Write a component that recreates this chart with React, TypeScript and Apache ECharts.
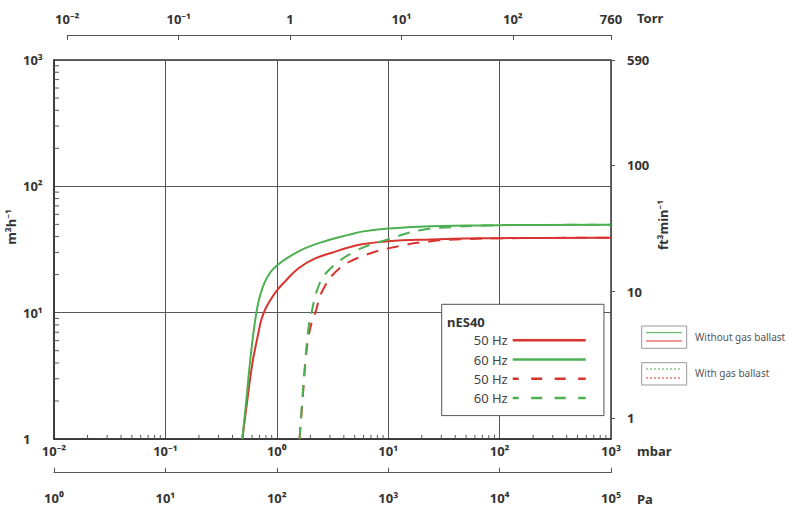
import React, { useEffect, useRef } from 'react';
import * as echarts from 'echarts';

// ---- Tick labels ----
const MBAR_LABELS = ['10⁻²', '10⁻¹', '10⁰', '10¹', '10²', '10³'];
const TORR_LABELS = ['10⁻²', '10⁻¹', '1', '10¹', '10²', '760'];
const PA_LABELS = ['10⁰', '10¹', '10²', '10³', '10⁴', '10⁵'];
const SPEED_LABELS = ['1', '10¹', '10²', '10³'];
const FT_LABELS = ['1', '10', '100', '590'];

// minor tick positions (2..9 within every decade)
const MINOR_MANTISSAS = [2, 3, 4, 5, 6, 7, 8, 9];
const MBAR_DECADES = [0.01, 0.1, 1, 10, 100];
const SPEED_DECADES = [1, 10, 100];

// ---- Series data: pressure (mbar) and pumping speed (m³/h) ----
const RED_SOLID_P = [0.49, 0.53, 0.57, 0.61, 0.65, 0.69, 0.724, 0.786, 0.872, 1.003, 1.189, 1.566, 2.21, 3.12, 4.4, 6.0, 10, 24, 50, 100, 1000];
const RED_SOLID_S = [1, 1.7, 2.8, 4.2, 5.6, 7.2, 8.71, 10.6, 12.5, 15.0, 17.7, 22.5, 26.9, 29.8, 32.8, 34.9, 36.8, 38.0, 38.6, 38.9, 39.2];

const GREEN_SOLID_P = [0.49, 0.535, 0.565, 0.59, 0.615, 0.64, 0.671, 0.71, 0.776, 0.873, 1.003, 1.274, 1.8, 2.54, 4.4, 6.0, 10, 24, 50, 100, 1000];
const GREEN_SOLID_S = [1, 2.11, 3.5, 5.0, 6.8, 8.71, 11.2, 13.8, 17.3, 20.8, 23.6, 27.5, 32.4, 36.2, 41.3, 44.0, 46.4, 48.4, 48.9, 49.3, 49.6];

const RED_DASH_P = [1.6, 1.7, 1.8, 1.9, 2.05, 2.22, 2.55, 3.58, 6.25, 12.4, 24.5, 49, 100, 1000];
const RED_DASH_S = [1, 2.0, 3.9, 6.0, 8.3, 10, 14.7, 22.1, 28.6, 33.6, 36.8, 38.2, 38.8, 39.2];

const GREEN_DASH_P = [1.6, 1.69, 1.81, 1.94, 2.05, 2.3, 2.85, 5.08, 9.9, 19.5, 37.8, 100, 1000];
const GREEN_DASH_S = [1, 1.98, 4.36, 8.0, 10, 15.1, 21.2, 30.7, 38.0, 45.0, 47.6, 49.3, 49.6];

const SERIES_NAMES = ['50 Hz', '60 Hz', '50 Hz (gas ballast)', '60 Hz (gas ballast)'];

const RED = '#d9342f';
const GREEN = '#4caf50';
const FONT = "'Noto Sans', 'DejaVu Sans', sans-serif";

const pts = (p: number[], s: number[]) => p.map((v, i) => [v, s[i]]);
const minorTicks = (decades: number[]) => decades.flatMap((d) => MINOR_MANTISSAS.map((m) => m * d));

const tickFont = { fontFamily: FONT, fontWeight: 'bold', fontSize: 13, color: '#333' };

export default function App() {
  const ref = useRef<HTMLDivElement>(null);
  useEffect(() => {
    document.body.style.margin = '0';
    const chart = echarts.init(ref.current!, null, { renderer: 'svg' });
    const dash = [12, 9];
    const tickLine = { color: '#555', width: 1 };
    const curve = { type: 'line', xAxisIndex: 0, yAxisIndex: 0, symbol: 'none', smooth: 0.4, z: 3 };
    const option: any = {
      animation: false,
      grid: [
        { left: 54, top: 60, width: 557, height: 379, show: true, borderColor: '#333', borderWidth: 1.5, backgroundColor: 'transparent', outerBoundsMode: 'none', containLabel: false },
        { left: 67.3, top: 35, width: 543.7, height: 10, show: false, outerBoundsMode: 'none', containLabel: false },
        { left: 54, top: 462, width: 557, height: 10.7, show: false, outerBoundsMode: 'none', containLabel: false },
        { left: 54, top: 60, width: 557, height: 358.3, show: false, outerBoundsMode: 'none', containLabel: false },
      ],
      xAxis: [
        {
          type: 'log', gridIndex: 0, min: 0.01, max: 1000, logBase: 10, position: 'bottom',
          axisLine: { show: true, onZero: false, lineStyle: { color: '#333', width: 1.5 } },
          axisTick: { show: false },
          splitLine: { show: true, lineStyle: { color: '#555', width: 1 } },
          axisLabel: { ...tickFont, margin: 5, showMinLabel: true, showMaxLabel: true, formatter: (_v: number, i: number) => MBAR_LABELS[i] ?? '' },
        },
        {
          type: 'log', gridIndex: 1, min: 0.01, max: 760, logBase: 10, position: 'top',
          axisLine: { show: true, onZero: false, lineStyle: { color: '#555', width: 1 } },
          axisTick: { show: true, inside: true, length: 5, lineStyle: tickLine },
          splitLine: { show: false },
          axisLabel: { ...tickFont, margin: 10, showMinLabel: true, showMaxLabel: true, formatter: (_v: number, i: number) => TORR_LABELS[i] ?? '' },
        },
        {
          type: 'log', gridIndex: 2, min: 1, max: 100000, logBase: 10, position: 'bottom',
          axisLine: { show: true, onZero: false, lineStyle: { color: '#555', width: 1 } },
          axisTick: { show: true, inside: true, length: 5, lineStyle: tickLine },
          splitLine: { show: false },
          axisLabel: { ...tickFont, margin: 19, showMinLabel: true, showMaxLabel: true, formatter: (_v: number, i: number) => PA_LABELS[i] ?? '' },
        },
        { type: 'value', gridIndex: 3, show: false, min: 0, max: 1 },
      ],
      yAxis: [
        {
          type: 'log', gridIndex: 0, min: 1, max: 1000, logBase: 10, position: 'left',
          axisLine: { show: true, onZero: false, lineStyle: { color: '#333', width: 1.5 } },
          axisTick: { show: false },
          splitLine: { show: true, lineStyle: { color: '#555', width: 1 } },
          axisLabel: { ...tickFont, align: 'left', margin: 31, showMinLabel: true, showMaxLabel: true, formatter: (_v: number, i: number) => SPEED_LABELS[i] ?? '' },
        },
        { type: 'value', gridIndex: 1, show: false, min: 0, max: 1 },
        { type: 'value', gridIndex: 2, show: false, min: 0, max: 1 },
        {
          type: 'log', gridIndex: 3, min: 1, max: 676, logBase: 10, position: 'right',
          axisLine: { show: false, onZero: false },
          axisTick: { show: true, inside: false, length: 4, lineStyle: tickLine },
          splitLine: { show: false },
          axisLabel: { ...tickFont, margin: 16, showMinLabel: true, showMaxLabel: true, formatter: (_v: number, i: number) => FT_LABELS[i] ?? '' },
        },
      ],
      legend: {
        orient: 'vertical', left: 441.7, top: 304.3, align: 'right',
        itemWidth: 73, itemHeight: 14, itemGap: 6.3,
        padding: [29.4, 17, 11, 32],
        backgroundColor: '#fff', borderColor: '#555', borderWidth: 1,
        selectedMode: false,
        textStyle: { fontFamily: FONT, fontSize: 13, color: '#444' },
        itemStyle: { opacity: 0 },
        lineStyle: { width: 2.5 },
        formatter: (n: string) => n.replace(' (gas ballast)', ''),
        data: [
          { name: SERIES_NAMES[0] },
          { name: SERIES_NAMES[1] },
          { name: SERIES_NAMES[2], lineStyle: { type: [11, 12.5], dashOffset: 5 } },
          { name: SERIES_NAMES[3], lineStyle: { type: [11, 12.5], dashOffset: 5 } },
        ],
      },
      series: [
        { ...curve, name: SERIES_NAMES[0], data: pts(RED_SOLID_P, RED_SOLID_S), lineStyle: { color: RED, width: 2 }, itemStyle: { color: RED } },
        { ...curve, name: SERIES_NAMES[1], data: pts(GREEN_SOLID_P, GREEN_SOLID_S), lineStyle: { color: GREEN, width: 2 }, itemStyle: { color: GREEN } },
        { ...curve, name: SERIES_NAMES[2], data: pts(RED_DASH_P, RED_DASH_S), lineStyle: { color: RED, width: 2, type: dash }, itemStyle: { color: RED } },
        { ...curve, name: SERIES_NAMES[3], data: pts(GREEN_DASH_P, GREEN_DASH_S), lineStyle: { color: GREEN, width: 2, type: dash }, itemStyle: { color: GREEN } },
        {
          // minor ticks of the mbar axis
          name: 'mbar minor ticks', type: 'custom', xAxisIndex: 0, yAxisIndex: 0, silent: true, clip: false, z: 2,
          data: minorTicks(MBAR_DECADES).map((v) => [v, 1]),
          renderItem: (_p: any, api: any) => {
            const c = api.coord([api.value(0), api.value(1)]);
            return { type: 'line', shape: { x1: c[0], y1: c[1], x2: c[0], y2: c[1] - 4 }, style: { stroke: '#555', lineWidth: 1 } };
          },
        },
        {
          // minor ticks of the m³/h axis
          name: 'speed minor ticks', type: 'custom', xAxisIndex: 0, yAxisIndex: 0, silent: true, clip: false, z: 2,
          data: minorTicks(SPEED_DECADES).map((v) => [0.01, v]),
          renderItem: (_p: any, api: any) => {
            const c = api.coord([api.value(0), api.value(1)]);
            return { type: 'line', shape: { x1: c[0], y1: c[1], x2: c[0] + 5, y2: c[1] }, style: { stroke: '#555', lineWidth: 1 } };
          },
        },
      ],
      graphic: [
        { type: 'text', x: 637, y: 18, z: 100, style: { text: 'Torr', fontFamily: FONT, fontWeight: 'bold', fontSize: 13, fill: '#333', align: 'left', verticalAlign: 'middle' } },
        { type: 'text', x: 637, y: 451, z: 100, style: { text: 'mbar', fontFamily: FONT, fontWeight: 'bold', fontSize: 13, fill: '#333', align: 'left', verticalAlign: 'middle' } },
        { type: 'text', x: 637, y: 499, z: 100, style: { text: 'Pa', fontFamily: FONT, fontWeight: 'bold', fontSize: 13, fill: '#333', align: 'left', verticalAlign: 'middle' } },
        { type: 'text', x: 11, y: 227, rotation: Math.PI / 2, z: 100, style: { text: 'm³h⁻¹', fontFamily: FONT, fontWeight: 'bold', fontSize: 13, fill: '#333', align: 'center', verticalAlign: 'middle' } },
        { type: 'text', x: 663, y: 225, rotation: Math.PI / 2, z: 100, style: { text: 'ft³min⁻¹', fontFamily: FONT, fontWeight: 'bold', fontSize: 13, fill: '#333', align: 'center', verticalAlign: 'middle' } },
        { type: 'text', x: 447, y: 322, z: 100, style: { text: 'nES40', fontFamily: FONT, fontWeight: 'bold', fontSize: 13, fill: '#333', align: 'left', verticalAlign: 'middle' } },
        // key: without / with gas ballast
        { type: 'rect', z: 100, shape: { x: 641.7, y: 326, width: 45, height: 22.3 }, style: { fill: '#fff', stroke: '#999', lineWidth: 1 } },
        { type: 'line', z: 101, shape: { x1: 646, y1: 332.7, x2: 682, y2: 332.7 }, style: { stroke: GREEN, lineWidth: 1 } },
        { type: 'line', z: 101, shape: { x1: 646, y1: 341, x2: 682, y2: 341 }, style: { stroke: RED, lineWidth: 1 } },
        { type: 'rect', z: 100, shape: { x: 641.7, y: 362.7, width: 45, height: 22.3 }, style: { fill: '#fff', stroke: '#999', lineWidth: 1 } },
        { type: 'line', z: 101, shape: { x1: 646, y1: 369, x2: 682, y2: 369 }, style: { stroke: GREEN, lineWidth: 1, lineDash: [2, 2] } },
        { type: 'line', z: 101, shape: { x1: 646, y1: 378, x2: 682, y2: 378 }, style: { stroke: RED, lineWidth: 1, lineDash: [2, 2] } },
        { type: 'text', x: 695, y: 337, z: 100, style: { text: 'Without gas ballast', fontFamily: FONT, fontSize: 10, fill: '#555', align: 'left', verticalAlign: 'middle' } },
        { type: 'text', x: 695, y: 373, z: 100, style: { text: 'With gas ballast', fontFamily: FONT, fontSize: 10, fill: '#555', align: 'left', verticalAlign: 'middle' } },
      ],
    };
    chart.setOption(option);
    return () => chart.dispose();
  }, []);
  return <div ref={ref} style={{ width: 800, height: 521 }} />;
}
